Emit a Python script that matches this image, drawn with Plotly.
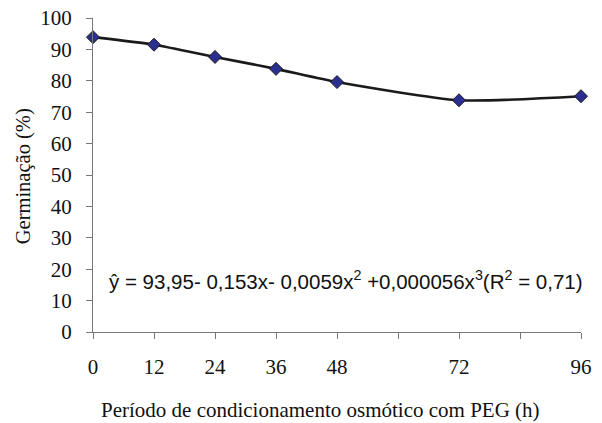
import plotly.graph_objects as go

hours = [0, 12, 24, 36, 48, 72, 96]
germination = [93.9, 91.5, 87.6, 83.8, 79.6, 73.8, 75.1]
x_tickvals = [0, 12, 24, 36, 48, 60, 72, 84, 96]
x_ticktext = ["0", "12", "24", "36", "48", "", "72", "", "96"]
y_tickvals = [0, 10, 20, 30, 40, 50, 60, 70, 80, 90, 100]

SERIF = "Liberation Serif"
SANS = "Liberation Sans"

fig = go.Figure()
fig.add_trace(go.Scatter(
    x=hours, y=germination, mode="lines+markers",
    line=dict(color="#1a1a1a", width=2.6, shape="spline", smoothing=0.6),
    marker=dict(symbol="diamond", size=10, color="#2b2f8f",
                line=dict(color="#1a1a1a", width=1)),
    showlegend=False, cliponaxis=False,
))

fig.add_annotation(
    x=0.518, y=0.167, xref="paper", yref="paper", showarrow=False,
    xanchor="center", yanchor="middle",
    text="ŷ = 93,95- 0,153x- 0,0059x<sup>2</sup> +0,000056x<sup>3</sup>(R<sup>2</sup> = 0,71)",
    font=dict(family=SANS, size=20.5, color="#111"),
)
# axis titles
fig.add_annotation(
    x=0.467, y=-0.248, xref="paper", yref="paper", showarrow=False,
    xanchor="center", yanchor="middle",
    text="Período de condicionamento osmótico com PEG (h)",
    font=dict(family=SERIF, size=21, color="#111"),
)
fig.add_annotation(
    x=-0.142, y=0.495, xref="paper", yref="paper", showarrow=False,
    xanchor="center", yanchor="middle", textangle=-90,
    text="Germinação (%)",
    font=dict(family=SERIF, size=20.5, color="#111"),
)

fig.update_layout(
    width=602, height=423,
    margin=dict(l=93, r=21, t=18, b=91),
    paper_bgcolor="white", plot_bgcolor="white",
    font=dict(family=SERIF, color="#111"),
)
fig.update_xaxes(
    range=[0, 96], tickvals=x_tickvals, ticktext=x_ticktext,
    showline=True, linecolor="#777", linewidth=1.2,
    ticks="outside", ticklen=6, tickcolor="#777", tickwidth=1.2,
    ticklabelstandoff=10, automargin=False,
    tickfont=dict(family=SERIF, size=21, color="#111"),
    showgrid=False, zeroline=False,
)
fig.update_yaxes(
    range=[0, 100], tickvals=y_tickvals,
    showline=True, linecolor="#777", linewidth=1.2,
    ticks="outside", ticklen=6, tickcolor="#777", tickwidth=1.2,
    ticklabelstandoff=10, automargin=False,
    tickfont=dict(family=SERIF, size=21, color="#111"),
    showgrid=False, zeroline=False,
)
fig.write_html("out.html", config={"displayModeBar": False},
               post_script="document.body.style.margin='0';")
